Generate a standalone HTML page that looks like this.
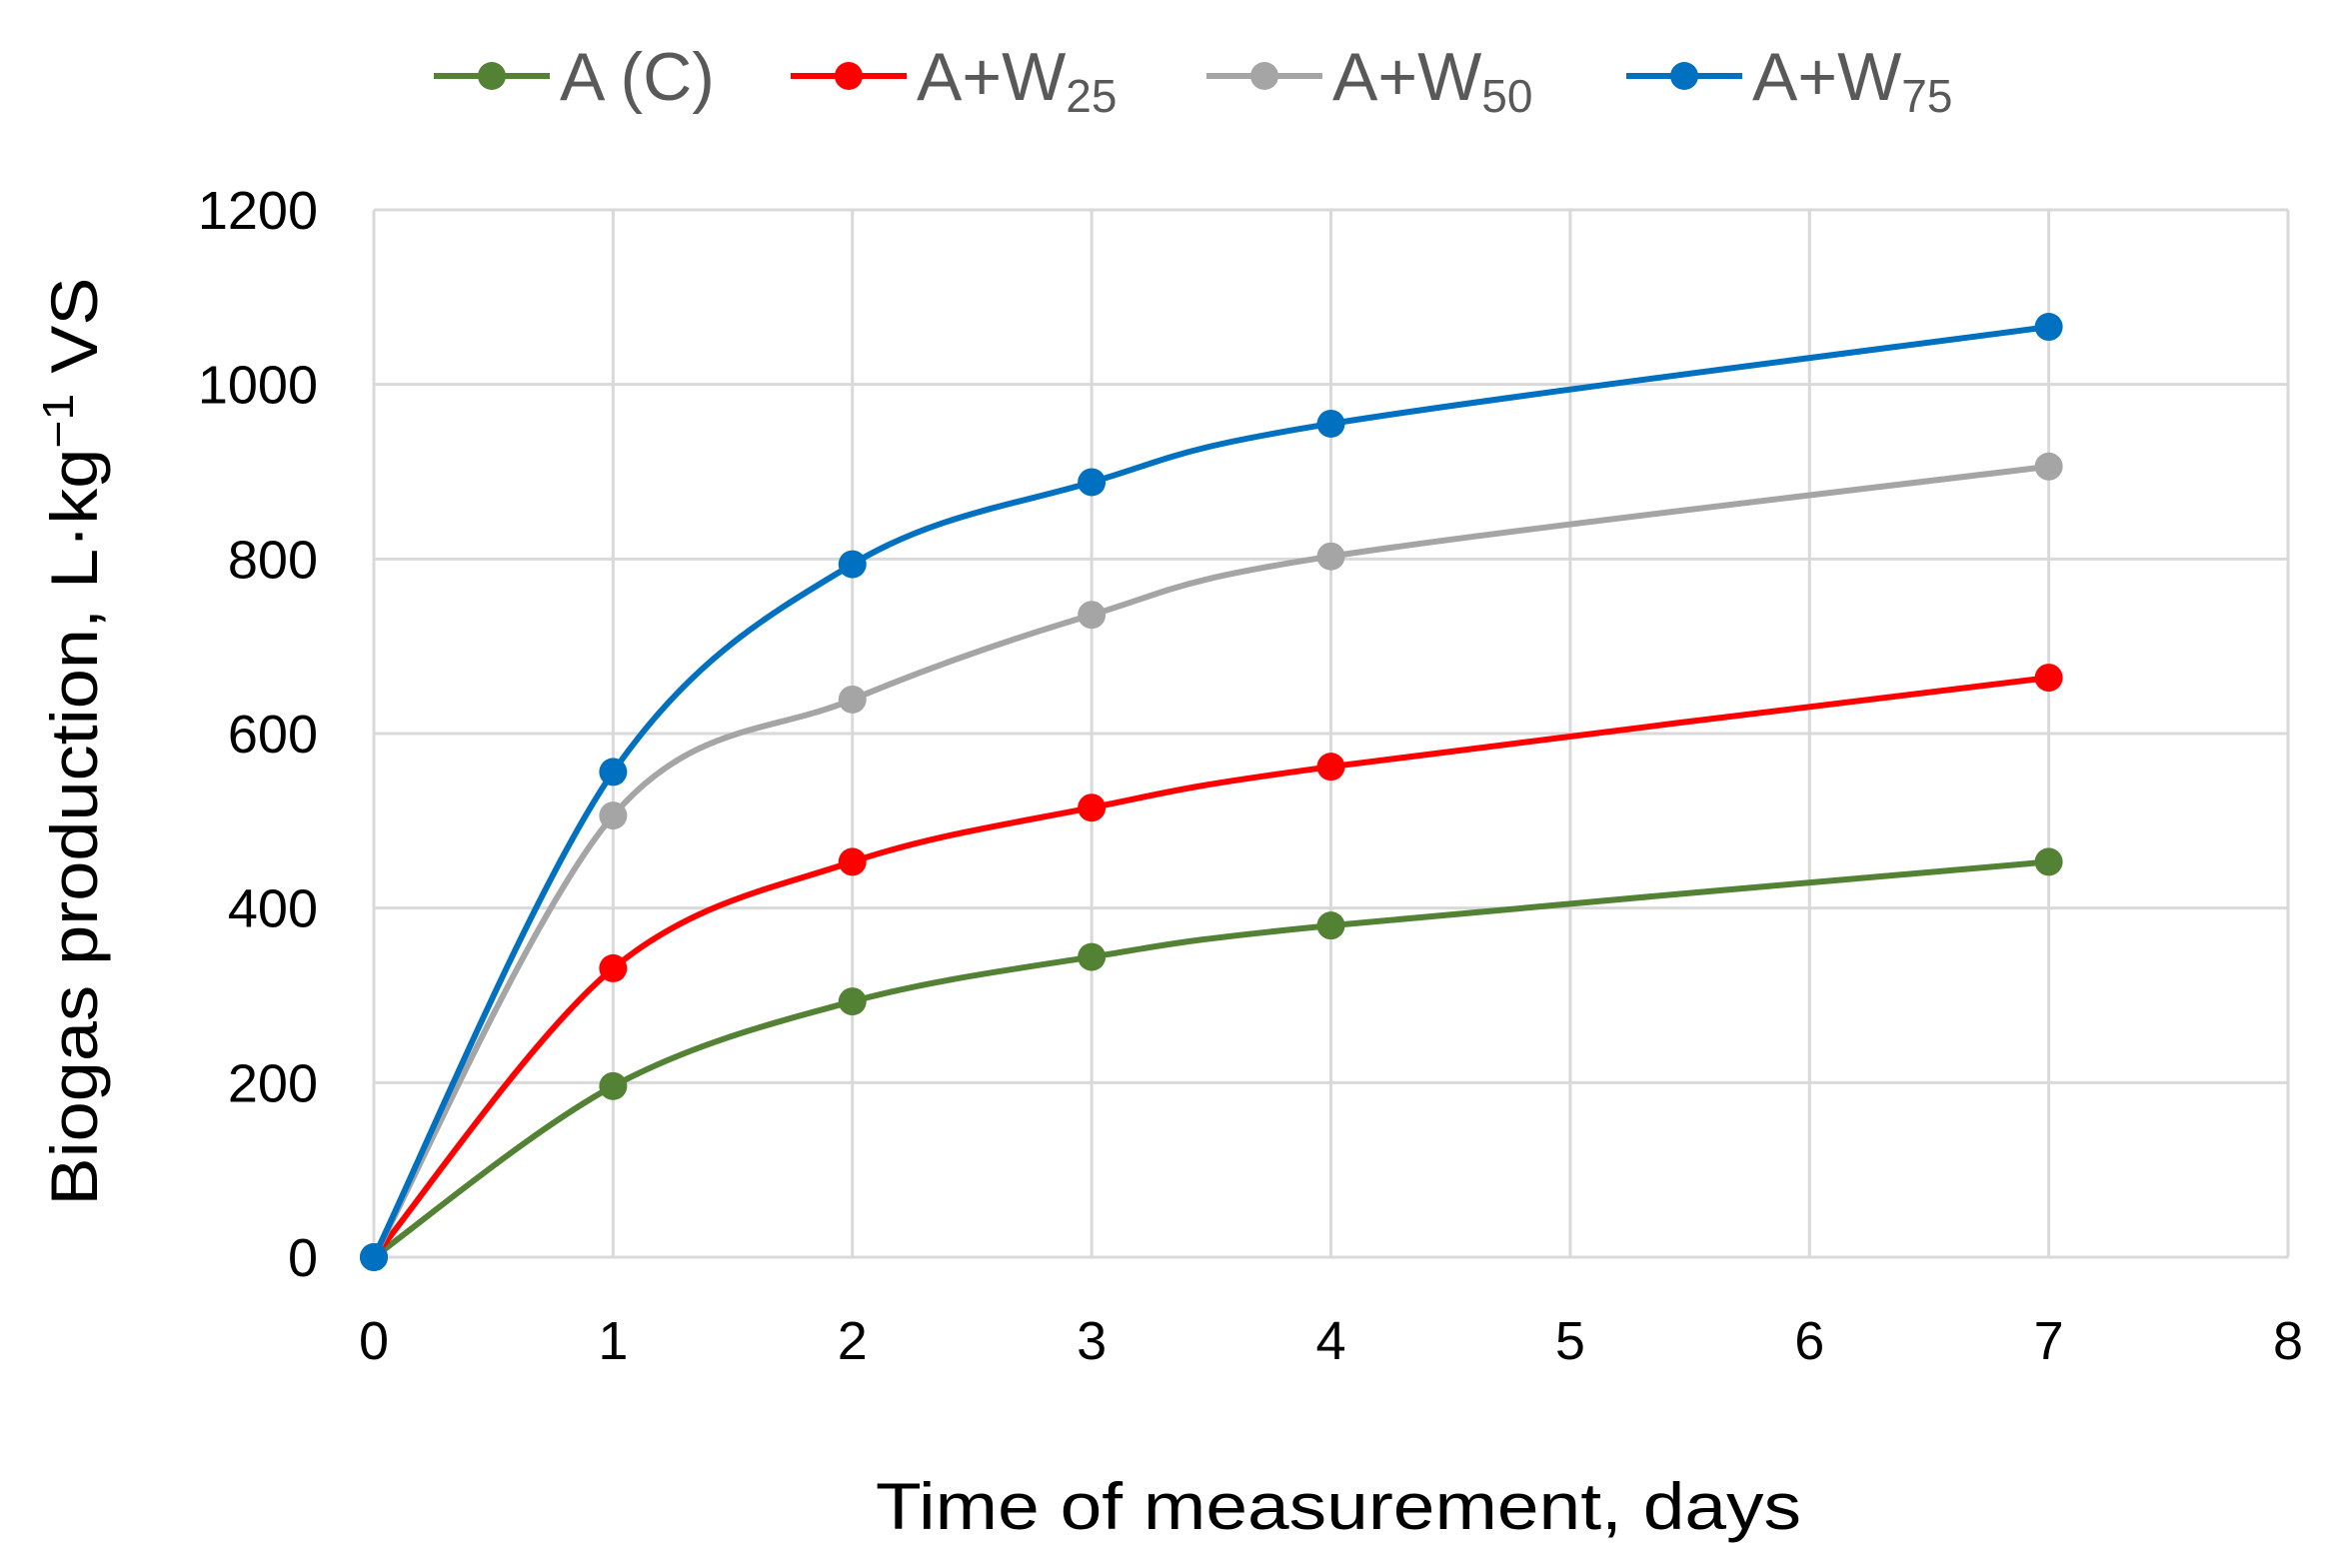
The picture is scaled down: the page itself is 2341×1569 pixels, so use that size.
<!DOCTYPE html>
<html><head><meta charset="utf-8"><style>
html,body{margin:0;padding:0;background:#fff;}
svg{display:block;font-family:"Liberation Sans",sans-serif;}
</style></head><body>
<svg id="chart" width="2341" height="1569" viewBox="0 0 2341 1569">
<g id="grid"></g>
<g id="yticks"></g>
<g id="xticks"></g>
<g id="series"></g>
<g id="legend"></g>
<text x="1339" y="1530" text-anchor="middle" font-size="66" fill="#000" textLength="926" lengthAdjust="spacingAndGlyphs">Time of measurement, days</text>
<text transform="translate(97,742) rotate(-90)" text-anchor="middle" font-size="66" fill="#000" textLength="929" lengthAdjust="spacingAndGlyphs">Biogas production, L·kg<tspan dy="-24" font-size="44">−1</tspan><tspan dy="24"> VS</tspan></text>
</svg>
<script>
const xCategories = [0, 1, 2, 3, 4, 7];
const seriesNames = ["A (C)", "A+W25", "A+W50", "A+W75"];
const valuesAC = [0, 196, 293, 344, 380, 453];
const valuesW25 = [0, 331, 453, 515, 562, 664];
const valuesW50 = [0, 506, 639, 736, 803, 906];
const valuesW75 = [0, 556, 794, 888, 955, 1066];
const yTicks = [0, 200, 400, 600, 800, 1000, 1200];
const xTicks = [0, 1, 2, 3, 4, 5, 6, 7, 8];

const NS = "http://www.w3.org/2000/svg";
const X0 = 374, X1 = 2289, Y0 = 1258, Y1 = 210;
function xs(v){ return X0 + (v - 0) / 8 * (X1 - X0); }
function ys(v){ return Y0 - v / 1200 * (Y0 - Y1); }
function mk(tag, attrs, parent){ const e = document.createElementNS(NS, tag); for (const k in attrs) e.setAttribute(k, attrs[k]); parent.appendChild(e); return e; }

const grid = document.getElementById('grid');
yTicks.forEach(t => {
  const l = mk('line', {x1: X0, x2: X1, y1: ys(t), y2: ys(t), stroke: '#d9d9d9', 'stroke-width': 3}, grid);
  
  
});
xTicks.forEach(t => {
  const l = mk('line', {x1: xs(t), x2: xs(t), y1: Y1, y2: Y0, stroke: '#d9d9d9', 'stroke-width': 3}, grid);
  
  
});
const yt = document.getElementById('yticks');
yTicks.forEach(t => {
  const e = mk('text', {x: 318, y: ys(t) + 19, 'text-anchor': 'end', 'font-size': 54, fill: '#000'}, yt);
  e.textContent = t;
  
  
});
const xt = document.getElementById('xticks');
xTicks.forEach(t => {
  const e = mk('text', {x: xs(t), y: 1360, 'text-anchor': 'middle', 'font-size': 54, fill: '#000'}, xt);
  e.textContent = t;
  
  
});

function smoothPath(pts){
  let d = `M${pts[0][0]},${pts[0][1]}`;
  for (let i = 0; i < pts.length - 1; i++){
    const p0 = pts[Math.max(0, i-1)], p1 = pts[i], p2 = pts[i+1], p3 = pts[Math.min(pts.length-1, i+2)];
    const c1 = [p1[0] + (p2[0]-p0[0])/6, p1[1] + (p2[1]-p0[1])/6];
    const c2 = [p2[0] - (p3[0]-p1[0])/6, p2[1] - (p3[1]-p1[1])/6];
    d += ` C${c1[0]},${c1[1]} ${c2[0]},${c2[1]} ${p2[0]},${p2[1]}`;
  }
  return d;
}
const allSeries = [valuesAC, valuesW25, valuesW50, valuesW75];
const colors = ['#548235', '#ff0000', '#a5a5a5', '#0070c0'];
const slugs = ['a-c', 'a-w25', 'a-w50', 'a-w75'];
const sg = document.getElementById('series');
allSeries.forEach((vals, si) => {
  const pts = vals.map((v, i) => [xs(xCategories[i]), ys(v)]);
  const p = mk('path', {d: smoothPath(pts), fill: 'none', stroke: colors[si], 'stroke-width': 6, 'stroke-linejoin': 'round'}, sg);
  
  
  pts.forEach(pt => {
    const c = mk('circle', {cx: pt[0], cy: pt[1], r: 14, fill: colors[si]}, sg);
    
    
  });
});

const lg = document.getElementById('legend');
const legX = [434, 791, 1207, 1627];
seriesNames.forEach((name, si) => {
  const x = legX[si], y = 76;
  const l = mk('line', {x1: x, x2: x + 116, y1: y, y2: y, stroke: colors[si], 'stroke-width': 6}, lg);
  
  
  const c = mk('circle', {cx: x + 58, cy: y, r: 14, fill: colors[si]}, lg);
  
  
  const t = mk('text', {x: x + 126, y: y + 24, 'font-size': 68, fill: '#595959'}, lg);
  
  
  if (si === 0) { t.textContent = name; }
  else {
    t.appendChild(document.createTextNode('A+W'));
    const s = mk('tspan', {dy: 12, 'font-size': 46}, t);
    s.textContent = name.slice(3);
  }
});
</script>
</body></html>
